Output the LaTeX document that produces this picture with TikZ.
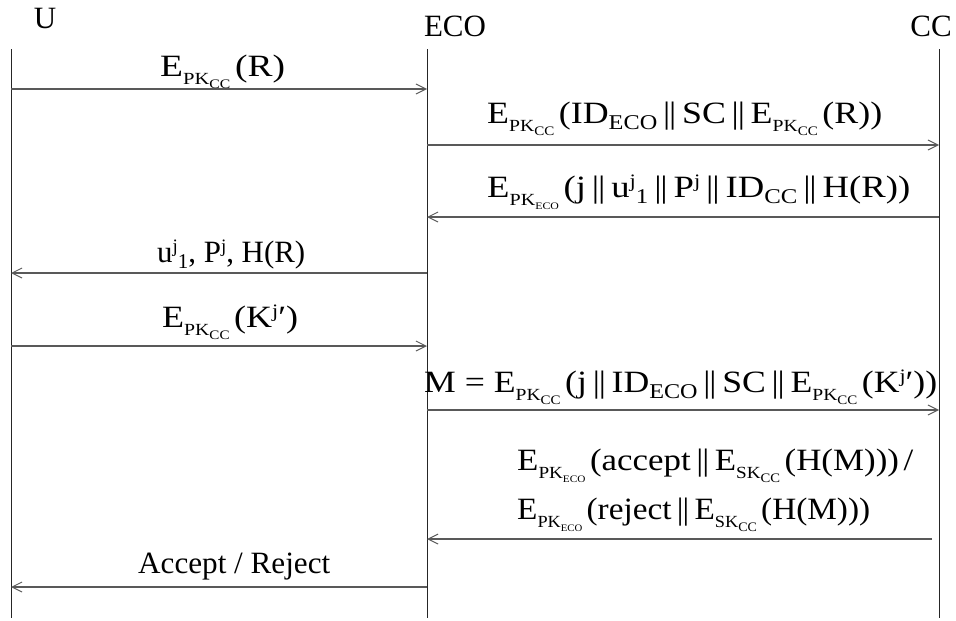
\documentclass[tikz,border=0pt]{standalone}
\usepackage{fontspec}
\usepackage{graphicx}
\setmainfont{Liberation Serif}
\usetikzlibrary{arrows.meta}
\newcommand\PKcc{\raisebox{-8pt}{\fontsize{17}{17}\selectfont PK\raisebox{-4pt}{\fontsize{13}{13}\selectfont CC}}}
\newcommand\PKeco{\raisebox{-8pt}{\fontsize{17}{17}\selectfont PK\raisebox{-4pt}{\fontsize{10}{10}\selectfont ECO}}}
\newcommand\SKcc{\raisebox{-8pt}{\fontsize{17}{17}\selectfont SK\raisebox{-4pt}{\fontsize{13}{13}\selectfont CC}}}
\newcommand\dsub[1]{\raisebox{-6pt}{\fontsize{21}{21}\selectfont #1}}
\newcommand\dsup[1]{\raisebox{10pt}{\fontsize{19}{19}\selectfont #1}}
\newcommand\cat{\hspace{5pt}|\kern-1pt|\hspace{5pt}}
\newcommand\gap{\hspace{4pt}}
\newcommand\fitw[2]{\resizebox{#1pt}{\height}{#2}}
\tikzset{
  actor/.style={anchor=base, inner sep=0pt, font=\fontsize{31}{36}\selectfont},
  lbl/.style={anchor=base west, inner sep=0pt, font=\fontsize{31}{36}\selectfont},
  life/.style={line width=1pt, draw=black!85},
  msg/.style={line width=1.4pt, draw=black!65, -{Straight Barb[length=10pt,width=10pt,line width=1pt]}},
}
\begin{document}
\begin{tikzpicture}[x=1pt,y=-1pt]
\useasboundingbox (0,0) rectangle (956,621);
% actors
\node[actor] (U) at (45,28) {U};
\node[actor] (ECO) at (455,36) {ECO};
\node[actor] (CC) at (931,36) {CC};
% lifelines
\coordinate (Ut) at (11,49);  \coordinate (Ub) at (11,618);
\coordinate (Et) at (427,49); \coordinate (Eb) at (427,618);
\coordinate (Ct) at (939,49); \coordinate (Cb) at (939,618);
\draw[life] (Ut) -- (Ub);
\draw[life] (Et) -- (Eb);
\draw[life] (Ct) -- (Cb);
% message end points
\coordinate (u1) at (11,89);  \coordinate (e1) at (427,89);
\coordinate (e2) at (427,145); \coordinate (c2) at (939,145);
\coordinate (c3) at (939,217); \coordinate (e3) at (427,217);
\coordinate (e4) at (427,273); \coordinate (u4) at (11,273);
\coordinate (u5) at (11,346);  \coordinate (e5) at (427,346);
\coordinate (e6) at (427,410); \coordinate (c6) at (939,410);
\coordinate (c7) at (932,539); \coordinate (e7) at (427,539);
\coordinate (e8) at (427,587); \coordinate (u8) at (11,587);
% messages
\draw[msg] (u1) -- (e1);
\draw[msg] (e2) -- (c2);
\draw[msg] (c3) -- (e3);
\draw[msg] (e4) -- (u4);
\draw[msg] (u5) -- (e5);
\draw[msg] (e6) -- (c6);
\draw[msg] (c7) -- (e7);
\draw[msg] (e8) -- (u8);
% labels
\node[lbl] (l1) at (160,76) {\fitw{125}{E\PKcc\gap(R)}};
\node[lbl] (l2) at (487,123) {\fitw{395}{E\PKcc\gap(ID\dsub{ECO}\cat SC\cat E\PKcc\gap(R))}};
\node[lbl] (l3) at (487,197) {\fitw{423}{E\PKeco\gap(j\cat u\dsup{j}\dsub{1}\cat P\dsup{j}\cat ID\dsub{CC}\cat H(R))}};
\node[lbl] (l4) at (157,262) {\fitw{148}{u\dsup{j}\dsub{1}, P\dsup{j}, H(R)}};
\node[lbl] (l5) at (162,327) {\fitw{136}{E\PKcc\gap(K\dsup{j}′)}};
\node[lbl] (l6) at (424,392) {\fitw{513}{M = E\PKcc\gap(j\cat ID\dsub{ECO}\cat SC\cat E\PKcc\gap(K\dsup{j}′))}};
\node[lbl] (l7a) at (517,470) {\fitw{396}{E\PKeco\gap(accept\cat E\SKcc\gap(H(M)))\gap/}};
\node[lbl] (l7b) at (517,519) {\fitw{353}{E\PKeco\gap(reject\cat E\SKcc\gap(H(M)))}};
\node[lbl] (l8) at (138,573) {\fitw{192}{Accept / Reject}};
\end{tikzpicture}
\end{document}
